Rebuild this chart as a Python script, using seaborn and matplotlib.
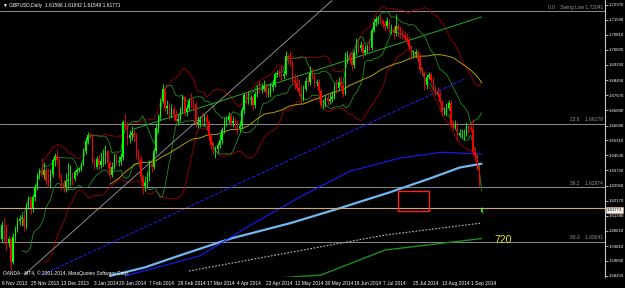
import numpy as np
import pandas as pd
import matplotlib
matplotlib.use("Agg")
import matplotlib.pyplot as plt
import seaborn as sns

# ---------------- data ----------------
dates = pd.bdate_range("2013-11-06", "2014-09-08")

close = [
 1.6088, 1.6083, 1.5995, 1.6020, 1.5900, 1.6030, 1.6070, 1.6110, 1.6120, 1.6125,
 1.6085, 1.6195, 1.6225, 1.6175, 1.6235, 1.6290, 1.6350, 1.6370, 1.6350, 1.6375,
 1.6320, 1.6315, 1.6355, 1.6430, 1.6450, 1.6430, 1.6345, 1.6310, 1.6290, 1.6320,
 1.6325, 1.6335, 1.6330, 1.6365, 1.6375, 1.6380, 1.6410, 1.6475, 1.6530, 1.6560,
 1.6555, 1.6420, 1.6395, 1.6435, 1.6405, 1.6425, 1.6450, 1.6475, 1.6415, 1.6350,
 1.6395, 1.6450, 1.6420, 1.6425, 1.6445, 1.6625, 1.6610, 1.6545, 1.6560, 1.6570,
 1.6550, 1.6450, 1.6435, 1.6340, 1.6295, 1.6310, 1.6340, 1.6410, 1.6395, 1.6475,
 1.6595, 1.6660, 1.6735, 1.6800, 1.6700, 1.6710, 1.6670, 1.6695, 1.6665, 1.6630,
 1.6645, 1.6690, 1.6760, 1.6680, 1.6700, 1.6735, 1.6725, 1.6720, 1.6615, 1.6625,
 1.6640, 1.6630, 1.6655, 1.6625, 1.6555, 1.6505, 1.6470, 1.6485, 1.6505, 1.6535,
 1.6585, 1.6635, 1.6640, 1.6660, 1.6620, 1.6635, 1.6610, 1.6595, 1.6605, 1.6690,
 1.6770, 1.6740, 1.6745, 1.6750, 1.6715, 1.6775, 1.6805, 1.6795, 1.6800, 1.6815,
 1.6780, 1.6780, 1.6810, 1.6820, 1.6880, 1.6885, 1.6875, 1.6865, 1.6880, 1.6970,
 1.6955, 1.6935, 1.6845, 1.6830, 1.6805, 1.6790, 1.6745, 1.6800, 1.6840, 1.6835,
 1.6885, 1.6865, 1.6830, 1.6835, 1.6790, 1.6715, 1.6720, 1.6750, 1.6735, 1.6745,
 1.6755, 1.6815, 1.6805, 1.6835, 1.6815, 1.6775, 1.6960, 1.6975, 1.6965, 1.6925,
 1.6985, 1.7025, 1.7015, 1.7030, 1.6985, 1.7000, 1.7020, 1.7015, 1.7105, 1.7150,
 1.7165, 1.7170, 1.7155, 1.7140, 1.7125, 1.7155, 1.7110, 1.7110, 1.7090, 1.7125,
 1.7105, 1.7095, 1.7080, 1.7065, 1.7055, 1.7020, 1.6975, 1.6980, 1.6990, 1.6965,
 1.6900, 1.6880, 1.6820, 1.6860, 1.6870, 1.6845, 1.6805, 1.6790, 1.6775, 1.6730,
 1.6680, 1.6685, 1.6700, 1.6725, 1.6620, 1.6600, 1.6610, 1.6560, 1.6570, 1.6570,
 1.6570, 1.6605, 1.6595, 1.6590, 1.6470, 1.6450, 1.6390, 1.6315, 1.61771]

high = [
 1.6110, 1.6130, 1.6095, 1.6035, 1.6030, 1.6050, 1.6085, 1.6130, 1.6145, 1.6150,
 1.6155, 1.6205, 1.6240, 1.6235, 1.6245, 1.6305, 1.6360, 1.6385, 1.6440, 1.6420,
 1.6390, 1.6390, 1.6380, 1.6440, 1.6465, 1.6485, 1.6445, 1.6360, 1.6330, 1.6360,
 1.6415, 1.6405, 1.6365, 1.6375, 1.6385, 1.6395, 1.6420, 1.6490, 1.6550, 1.6575,
 1.6570, 1.6560, 1.6440, 1.6450, 1.6460, 1.6470, 1.6485, 1.6505, 1.6480, 1.6425,
 1.6420, 1.6465, 1.6465, 1.6450, 1.6465, 1.6640, 1.6668, 1.6625, 1.6585, 1.6605,
 1.6590, 1.6570, 1.6485, 1.6450, 1.6350, 1.6345, 1.6370, 1.6430, 1.6440, 1.6490,
 1.6620, 1.6670, 1.6750, 1.6823, 1.6805, 1.6740, 1.6730, 1.6720, 1.6710, 1.6690,
 1.6670, 1.6705, 1.6770, 1.6765, 1.6720, 1.6750, 1.6780, 1.6760, 1.6730, 1.6660,
 1.6660, 1.6680, 1.6670, 1.6670, 1.6640, 1.6570, 1.6525, 1.6500, 1.6525, 1.6565,
 1.6600, 1.6655, 1.6660, 1.6680, 1.6670, 1.6660, 1.6650, 1.6640, 1.6630, 1.6705,
 1.6780, 1.6785, 1.6790, 1.6770, 1.6770, 1.6790, 1.6820, 1.6840, 1.6830, 1.6845,
 1.6830, 1.6810, 1.6830, 1.6850, 1.6890, 1.6900, 1.6905, 1.6925, 1.6900, 1.6996,
 1.6980, 1.6995, 1.6950, 1.6880, 1.6870, 1.6850, 1.6820, 1.6820, 1.6860, 1.6880,
 1.6920, 1.6910, 1.6885, 1.6850, 1.6850, 1.6800, 1.6745, 1.6770, 1.6775, 1.6780,
 1.6790, 1.6830, 1.6850, 1.6860, 1.6865, 1.6835, 1.6990, 1.6995, 1.6995, 1.6985,
 1.7000, 1.7065, 1.7050, 1.7050, 1.7040, 1.7030, 1.7035, 1.7060, 1.7115, 1.7165,
 1.7180, 1.7180, 1.7185, 1.7165, 1.7155, 1.7175, 1.7165, 1.7140, 1.7130, 1.7190,
 1.7140, 1.7125, 1.7110, 1.7100, 1.7090, 1.7075, 1.7030, 1.7000, 1.7010, 1.7005,
 1.6985, 1.6915, 1.6895, 1.6875, 1.6890, 1.6890, 1.6860, 1.6820, 1.6810, 1.6790,
 1.6740, 1.6705, 1.6725, 1.6740, 1.6740, 1.6640, 1.6640, 1.6625, 1.6590, 1.6590,
 1.6590, 1.6625, 1.6620, 1.6615, 1.6645, 1.6495, 1.6460, 1.6405, 1.61842]

low = [
 1.6000, 1.5990, 1.5960, 1.5975, 1.5855, 1.5885, 1.6005, 1.6055, 1.6090, 1.6085,
 1.6060, 1.6070, 1.6175, 1.6150, 1.6160, 1.6215, 1.6275, 1.6330, 1.6340, 1.6330,
 1.6300, 1.6285, 1.6285, 1.6340, 1.6400, 1.6405, 1.6330, 1.6275, 1.6265, 1.6260,
 1.6280, 1.6300, 1.6300, 1.6320, 1.6350, 1.6365, 1.6370, 1.6400, 1.6460, 1.6515,
 1.6545, 1.6410, 1.6380, 1.6380, 1.6380, 1.6390, 1.6400, 1.6410, 1.6390, 1.6330,
 1.6340, 1.6380, 1.6400, 1.6400, 1.6405, 1.6430, 1.6585, 1.6505, 1.6520, 1.6535,
 1.6525, 1.6435, 1.6410, 1.6320, 1.6250, 1.6270, 1.6290, 1.6320, 1.6365, 1.6380,
 1.6460, 1.6570, 1.6640, 1.6725, 1.6680, 1.6670, 1.6640, 1.6650, 1.6640, 1.6620,
 1.6610, 1.6630, 1.6675, 1.6660, 1.6660, 1.6690, 1.6705, 1.6690, 1.6600, 1.6595,
 1.6600, 1.6610, 1.6605, 1.6590, 1.6530, 1.6485, 1.6460, 1.6440, 1.6465, 1.6490,
 1.6515, 1.6570, 1.6605, 1.6620, 1.6605, 1.6600, 1.6590, 1.6565, 1.6575, 1.6590,
 1.6670, 1.6720, 1.6720, 1.6715, 1.6690, 1.6700, 1.6760, 1.6780, 1.6780, 1.6790,
 1.6760, 1.6755, 1.6760, 1.6790, 1.6810, 1.6860, 1.6860, 1.6840, 1.6850, 1.6870,
 1.6930, 1.6920, 1.6830, 1.6800, 1.6790, 1.6765, 1.6730, 1.6735, 1.6790, 1.6815,
 1.6820, 1.6850, 1.6810, 1.6815, 1.6770, 1.6700, 1.6693, 1.6705, 1.6715, 1.6720,
 1.6730, 1.6745, 1.6780, 1.6795, 1.6800, 1.6760, 1.6770, 1.6935, 1.6940, 1.6900,
 1.6910, 1.6975, 1.6990, 1.6995, 1.6960, 1.6975, 1.6985, 1.6995, 1.7005, 1.7095,
 1.7130, 1.7140, 1.7140, 1.7115, 1.7100, 1.7115, 1.7090, 1.7085, 1.7060, 1.7075,
 1.7070, 1.7065, 1.7060, 1.7050, 1.7035, 1.7000, 1.6955, 1.6960, 1.6965, 1.6950,
 1.6885, 1.6865, 1.6795, 1.6800, 1.6850, 1.6830, 1.6795, 1.6770, 1.6760, 1.6720,
 1.6660, 1.6665, 1.6660, 1.6690, 1.6605, 1.6585, 1.6590, 1.6535, 1.6550, 1.6545,
 1.6535, 1.6555, 1.6570, 1.6575, 1.6460, 1.6425, 1.6375, 1.6295, 1.61549]

first_open = 1.6020
gap_opens = {218: 1.61596}   # Monday gap bar

# long moving-average style lines (bar index, price)
ma_lightblue_bar = [49, 65, 79, 104, 131, 154, 176, 195, 208, 218]
ma_lightblue_val = [1.5825, 1.5870, 1.5925, 1.6020, 1.6100, 1.6180, 1.6260, 1.6335, 1.6390, 1.6410]
ma_darkblue_bar = [56, 90, 113, 136, 158, 181, 200, 218]
ma_darkblue_val = [1.5825, 1.5930, 1.6090, 1.6240, 1.6370, 1.6440, 1.6470, 1.6460]
ma_dotted_bar = [85, 174, 218]
ma_dotted_val = [1.5851, 1.6038, 1.6101]
ma_green_bar = [95, 145, 174, 218]
ma_green_val = [1.5790, 1.5830, 1.5960, 1.6020]

# straight trend lines (bar index, price)
tl_gray1_bar = [10, 150]
tl_gray1_val = [1.5830, 1.7260]
tl_green_bar = [60, 218]
tl_green_val = [1.6591, 1.7175]
tl_blue_bar = [18, 210]
tl_blue_val = [1.5830, 1.6850]

fib_levels = [1.72041, 1.66179, 1.62874, 1.60041]
fib_texts = ["0.0    Swing Low 1.72041", "23.6    1.66179", "38.2    1.62874", "50.0    1.60041"]

ytick_vals = [1.72370, 1.71590, 1.70810, 1.70030, 1.69250, 1.68450, 1.67670, 1.66890,
              1.66090, 1.65310, 1.64530, 1.63750, 1.62950, 1.62170, 1.61390, 1.60610,
              1.59810, 1.59030, 1.58250]
xtick_dates = ["2013-11-06", "2013-11-25", "2013-12-13", "2014-01-03", "2014-01-20",
               "2014-02-07", "2014-02-26", "2014-03-17", "2014-04-04", "2014-04-23",
               "2014-05-12", "2014-05-30", "2014-06-18", "2014-07-07", "2014-07-25",
               "2014-08-13", "2014-09-01"]
xtick_labels = ["6 Nov 2013", "25 Nov 2013", "13 Dec 2013", "3 Jan 2014", "20 Jan 2014",
                "7 Feb 2014", "26 Feb 2014", "17 Mar 2014", "4 Apr 2014", "23 Apr 2014",
                "12 May 2014", "30 May 2014", "18 Jun 2014", "7 Jul 2014", "25 Jul 2014",
                "13 Aug 2014", "1 Sep 2014"]

bid = 1.61771
box_bars = [180, 194]
box_prices = [1.6165, 1.6270]

# ---------------- style ----------------
sns.set_theme(style="dark", rc={"axes.facecolor": "black", "figure.facecolor": "black"})
FONT = ["Liberation Sans Narrow", "Liberation Sans", "DejaVu Sans"]
plt.rcParams["font.family"] = FONT
FS = 3.5
FSY = 3.1

n = len(close)
df = pd.DataFrame({"bar": np.arange(n), "close": close, "high": high, "low": low})
df["open"] = df["close"].shift(1)
df.loc[0, "open"] = first_open
for k, v in gap_opens.items():
    df.loc[k, "open"] = v

W, H = 625, 288
fig = plt.figure(figsize=(W / 100, H / 100), dpi=100, facecolor="black")
ax = fig.add_axes([0, 11 / H, 605 / W, 277 / H])
ax.set_facecolor("black")

px_per_bar = 2.2
x0 = -2 / px_per_bar
x1 = x0 + 605 / px_per_bar
ax.set_xlim(x0, x1)
ppu = 1919.0
ytop = 1.72370 + 5 / ppu
ax.set_ylim(ytop - 277 / ppu, ytop)

# fib lines
for lv, t in zip(fib_levels, fib_texts):
    ax.axhline(lv, color="#8c8c8c", lw=0.7, zorder=1)
    ax.text(x1 - 1, lv + 1.5 / ppu, t, color="#9a9a9a", fontsize=FS, ha="right", va="bottom", zorder=2)

# Bollinger-like bands from the closes
s = df["close"]
mid = s.rolling(20).mean()
sd = s.rolling(20).std(ddof=0)
df["bb_up"] = mid + 2 * sd
df["bb_lo"] = mid - 2 * sd
df["bb2_up"] = s.rolling(10).mean() + 1.5 * s.rolling(10).std(ddof=0)
df["bb2_lo"] = s.rolling(10).mean() - 1.5 * s.rolling(10).std(ddof=0)
df["ma50"] = s.rolling(50).mean()

sns.lineplot(data=df, x="bar", y="bb_up", ax=ax, color="#a00000", lw=0.6, zorder=3)
sns.lineplot(data=df, x="bar", y="bb_lo", ax=ax, color="#a00000", lw=0.6, zorder=3)
sns.lineplot(data=df, x="bar", y="bb2_up", ax=ax, color="#1f8f1f", lw=0.6, zorder=3)
sns.lineplot(data=df, x="bar", y="bb2_lo", ax=ax, color="#1f8f1f", lw=0.6, zorder=3)
sns.lineplot(data=df, x="bar", y="ma50", ax=ax, color="#b0a000", lw=0.7, zorder=3)

sns.lineplot(x=ma_lightblue_bar, y=ma_lightblue_val, ax=ax, color="#6fb8f0", lw=1.6, zorder=4)
sns.lineplot(x=ma_darkblue_bar, y=ma_darkblue_val, ax=ax, color="#1a1aff", lw=0.8, zorder=4)
sns.lineplot(x=ma_dotted_bar, y=ma_dotted_val, ax=ax, color="#c0c0c0", lw=0.8, ls=(0, (1.5, 1.5)), zorder=4)
sns.lineplot(x=ma_green_bar, y=ma_green_val, ax=ax, color="#1e8c1e", lw=1.0, zorder=4)
sns.lineplot(x=tl_gray1_bar, y=tl_gray1_val, ax=ax, color="#a0a0a0", lw=0.6, zorder=3)
sns.lineplot(x=tl_green_bar, y=tl_green_val, ax=ax, color="#22aa22", lw=0.7, zorder=3)
sns.lineplot(x=tl_blue_bar, y=tl_blue_val, ax=ax, color="#2020ff", lw=0.7, ls="--", zorder=3)

# candles
bull = df["close"] >= df["open"]
for is_bull, col in [(True, "#00ff00"), (False, "#ff0000")]:
    d = df[bull == is_bull]
    ax.vlines(d["bar"], d["low"], d["high"], color=col, lw=0.6, zorder=5)
    ax.bar(d["bar"], (d["close"] - d["open"]).abs().clip(lower=0.0002),
           bottom=np.minimum(d["open"], d["close"]), width=0.6, color=col, lw=0, zorder=5)

# bid line
ax.axhline(bid, color="#d2aa7a", lw=0.8, zorder=6)

# rectangle
ax.add_patch(plt.Rectangle((box_bars[0], box_prices[0]), box_bars[1] - box_bars[0],
                           box_prices[1] - box_prices[0], fill=False, ec="#ff2020", lw=1.0, zorder=7))
ax.text(224, 1.6015, "720", color="#e8e800", fontsize=7.5, ha="left", va="center", zorder=7)

# axes styling
for sp in ["top", "left", "bottom"]:
    ax.spines[sp].set_visible(False)
ax.spines["right"].set_color("#c8c8c8")
ax.spines["right"].set_linewidth(0.8)
ax.grid(False)
ax.yaxis.tick_right()
ax.set_yticks(ytick_vals)
ax.set_yticklabels([f"{v:.5f}" for v in ytick_vals])
ax.tick_params(axis="y", colors="#c8c8c8", labelcolor="white", labelsize=FSY, length=1.8, width=0.6, pad=0.5, direction="out")
xt = [dates.get_loc(pd.Timestamp(d)) for d in xtick_dates]
ax.set_xticks(xt)
ax.set_xticklabels(xtick_labels)
for lbl in ax.get_xticklabels():
    lbl.set_ha("left")
ax.tick_params(axis="x", colors="#c8c8c8", labelcolor="white", labelsize=FS, length=2.0, width=0.6, pad=1, direction="out")
ax.set_xlabel("")
ax.set_ylabel("")

# bid label
fig.text(607 / W, 1 - 210 / H, "1.61771", color="black", fontsize=FSY, ha="left", va="center",
         bbox=dict(boxstyle="square,pad=0.15", fc="#f0f0f0", ec="#d2aa7a", lw=0.5))

fig.text(3 / W, 1 - 5 / H, "\u25bc GBPUSD,Daily  1.61596 1.61842 1.61549 1.61771", color="white",
         fontsize=FS, ha="left", va="center", family=FONT)
fig.text(3 / W, 1 - 273 / H, "OANDA - MT4, \u00a9 2001-2014, MetaQuotes Software Corp.", color="white",
         fontsize=FS, ha="left", va="center")

fig.savefig("out.png", dpi=100, facecolor="black")
